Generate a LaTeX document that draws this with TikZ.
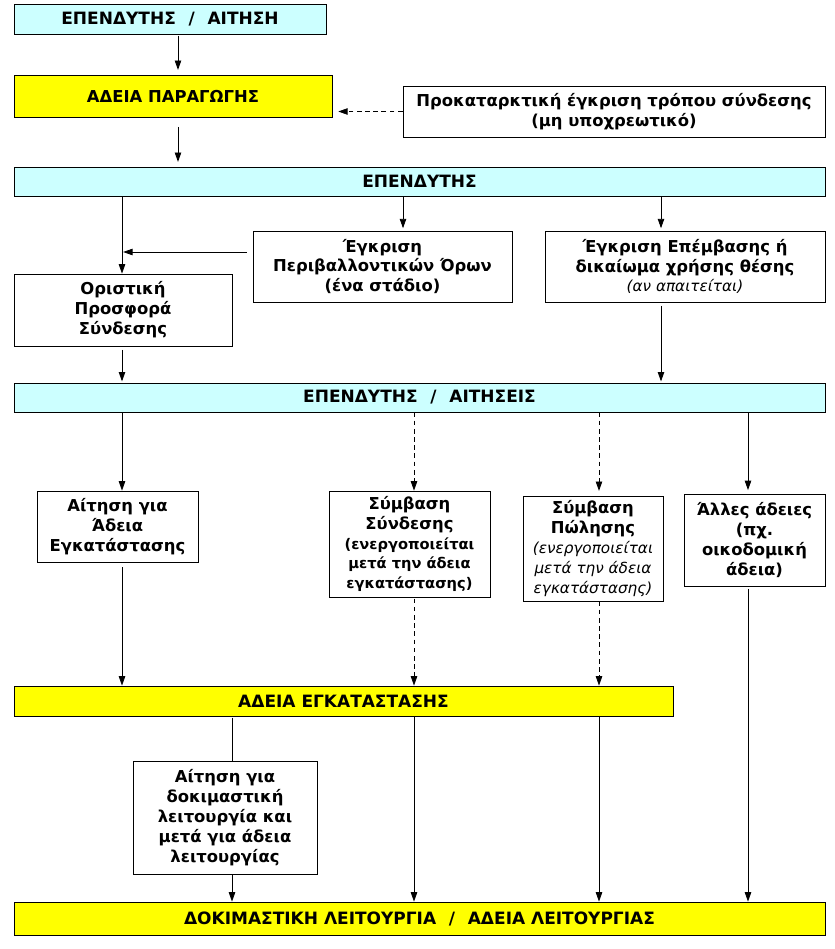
\documentclass[tikz,border=0pt]{standalone}
\usepackage{fontspec}
\setmainfont{DejaVu Sans}
\usepackage{xcolor}
\usepackage{tikz}
\usetikzlibrary{arrows.meta,positioning,calc}

\definecolor{lightcyan}{RGB}{204,255,255}
\definecolor{brightyellow}{RGB}{255,255,0}

% line styles inside the boxes
\newcommand{\subline}[1]{{\fontsize{12.5}{16.5}\selectfont #1}}
\newcommand{\lightline}[1]{{\fontsize{13}{16.5}\selectfont\mdseries\itshape #1}}
\newcommand{\slashgap}{\hspace{0.75em}/\hspace{0.75em}}

\begin{document}
\begin{tikzpicture}[
  x=0.03cm, y=-0.03cm,
  box/.style={rectangle, draw, line width=0.7pt, inner sep=1pt, align=center,
    font=\fontsize{14}{17}\selectfont\bfseries},
  band/.style={box, fill=lightcyan, minimum width=24.33cm, minimum height=0.87cm,
    font=\fontsize{14.5}{17}\selectfont\bfseries},
  permit/.style={box, fill=brightyellow, font=\fontsize{14.5}{17}\selectfont\bfseries},
  arrow/.style={-{Triangle[length=8pt,width=5.5pt]}, line width=0.7pt},
  optional/.style={arrow, dash pattern=on 4pt off 3pt}
]
\useasboundingbox (0,0) rectangle (834,949);

% Columns of the connectors
\coordinate (colA) at (178,0);
\coordinate (colB) at (122,0);
\coordinate (colC) at (403,0);
\coordinate (colD) at (661,0);
\coordinate (colE) at (414,0);
\coordinate (colF) at (599,0);
\coordinate (colG) at (748,0);
\coordinate (colH) at (232,0);

% Stage 1: application and production licence
\node[band, minimum width=9.36cm, minimum height=0.9cm] (request) at (170,19) {ΕΠΕΝΔΥΤΗΣ\slashgap ΑΙΤΗΣΗ};
\node[permit, minimum width=9.54cm, minimum height=1.26cm, font=\fontsize{14}{17}\selectfont\bfseries] (production) at (173,96) {ΑΔΕΙΑ ΠΑΡΑΓΩΓΗΣ};
\node[box, fill=white, minimum width=12.66cm, minimum height=1.53cm] (prelim) at (614,111.5) {Προκαταρκτική έγκριση τρόπου σύνδεσης\\(μη υποχρεωτικό)};

% Stage 2: investor approvals
\node[band] (investor) at (419.5,181.5) {ΕΠΕΝΔΥΤΗΣ};
\node[box, minimum width=7.77cm, minimum height=2.13cm] (environment) at (382.5,266.5) {Έγκριση\\Περιβαλλοντικών Όρων\\(ένα στάδιο)};
\node[box, minimum width=8.4cm, minimum height=2.13cm] (siteuse) at (685,266.5) {Έγκριση Επέμβασης ή\\δικαίωμα χρήσης θέσης\\\lightline{(αν απαιτείται)}};
\node[box, minimum width=6.54cm, minimum height=2.16cm] (offer) at (123,310) {Οριστική\\Προσφορά\\Σύνδεσης};

% Stage 3: applications
\node[band] (applications) at (419.5,397.5) {ΕΠΕΝΔΥΤΗΣ\slashgap ΑΙΤΗΣΕΙΣ};
\node[box, minimum width=4.83cm, minimum height=2.13cm] (installreq) at (117.5,526.5) {Αίτηση για\\Άδεια\\Εγκατάστασης};
\node[box, minimum width=4.83cm, minimum height=3.18cm] (connection) at (409.5,544) {Σύμβαση\\Σύνδεσης\\\subline{(ενεργοποιείται}\\\subline{μετά την άδεια}\\\subline{εγκατάστασης)}};
\node[box, minimum width=4.2cm, minimum height=3.15cm] (sale) at (593,548.5) {Σύμβαση\\Πώλησης\\\lightline{(ενεργοποιείται}\\\lightline{μετά την άδεια}\\\lightline{εγκατάστασης)}};
\node[box, minimum width=4.23cm, minimum height=2.76cm] (other) at (754.5,540) {Άλλες άδειες\\(πχ.\\οικοδομική\\άδεια)};

% Stage 4: installation and operation
\node[permit, minimum width=19.77cm, minimum height=0.9cm] (install) at (343.5,701) {ΑΔΕΙΑ ΕΓΚΑΤΑΣΤΑΣΗΣ};
\node[box, minimum width=5.52cm, minimum height=3.39cm] (trialreq) at (225,817.5) {Αίτηση για\\δοκιμαστική\\λειτουργία και\\μετά για άδεια\\λειτουργίας};
\node[permit, minimum width=24.33cm, minimum height=0.99cm] (operation) at (419.5,918.5) {ΔΟΚΙΜΑΣΤΙΚΗ ΛΕΙΤΟΥΡΓΙΑ\slashgap ΑΔΕΙΑ ΛΕΙΤΟΥΡΓΙΑΣ};

% Top arrows
\draw[arrow, shorten <=1pt, shorten >=4pt] (request.south -| colA) -- (production.north -| colA);
\draw[optional, shorten >=5pt] (prelim.west) -- (prelim.west -| production.east);
\draw[arrow, shorten <=8pt, shorten >=4pt] (production.south -| colA) -- (investor.north -| colA);

% Investor branches
\coordinate (envjoin) at (122,252);
\draw[arrow] (investor.south -| colB) -- (offer.north -| colB);
\draw[arrow, shorten >=2pt] (investor.south -| colC) -- (environment.north -| colC);
\draw[arrow, shorten >=2pt] (investor.south -| colD) -- (siteuse.north -| colD);
\draw[arrow, shorten <=5pt, shorten >=1pt] (environment.west |- envjoin) -- (envjoin);
\draw[arrow, shorten <=3pt, shorten >=1pt] (offer.south -| colB) -- (applications.north -| colB);
\draw[arrow, shorten <=3pt, shorten >=1pt] (siteuse.south -| colD) -- (applications.north -| colD);

% Applications
\draw[arrow] (applications.south -| colB) -- (installreq.north -| colB);
\draw[optional] (applications.south -| colE) -- (connection.north -| colE);
\draw[optional, shorten >=4pt] (applications.south -| colF) -- (sale.north -| colF);
\draw[arrow, shorten >=3pt] (applications.south -| colG) -- (other.north -| colG);

% Towards installation licence
\draw[arrow, shorten <=4pt] (installreq.south -| colB) -- (install.north -| colB);
\draw[optional, shorten <=1pt] (connection.south -| colE) -- (install.north -| colE);
\draw[optional] (sale.south -| colF) -- (install.north -| colF);

% Towards operation
\draw[line width=0.7pt, shorten <=1pt] (install.south -| colH) -- (trialreq.north -| colH);
\draw[arrow] (trialreq.south -| colH) -- (operation.north -| colH);
\draw[arrow] (install.south -| colE) -- (operation.north -| colE);
\draw[arrow] (install.south -| colF) -- (operation.north -| colF);
\draw[arrow, shorten <=2pt] (other.south -| colG) -- (operation.north -| colG);

\end{tikzpicture}
\end{document}
